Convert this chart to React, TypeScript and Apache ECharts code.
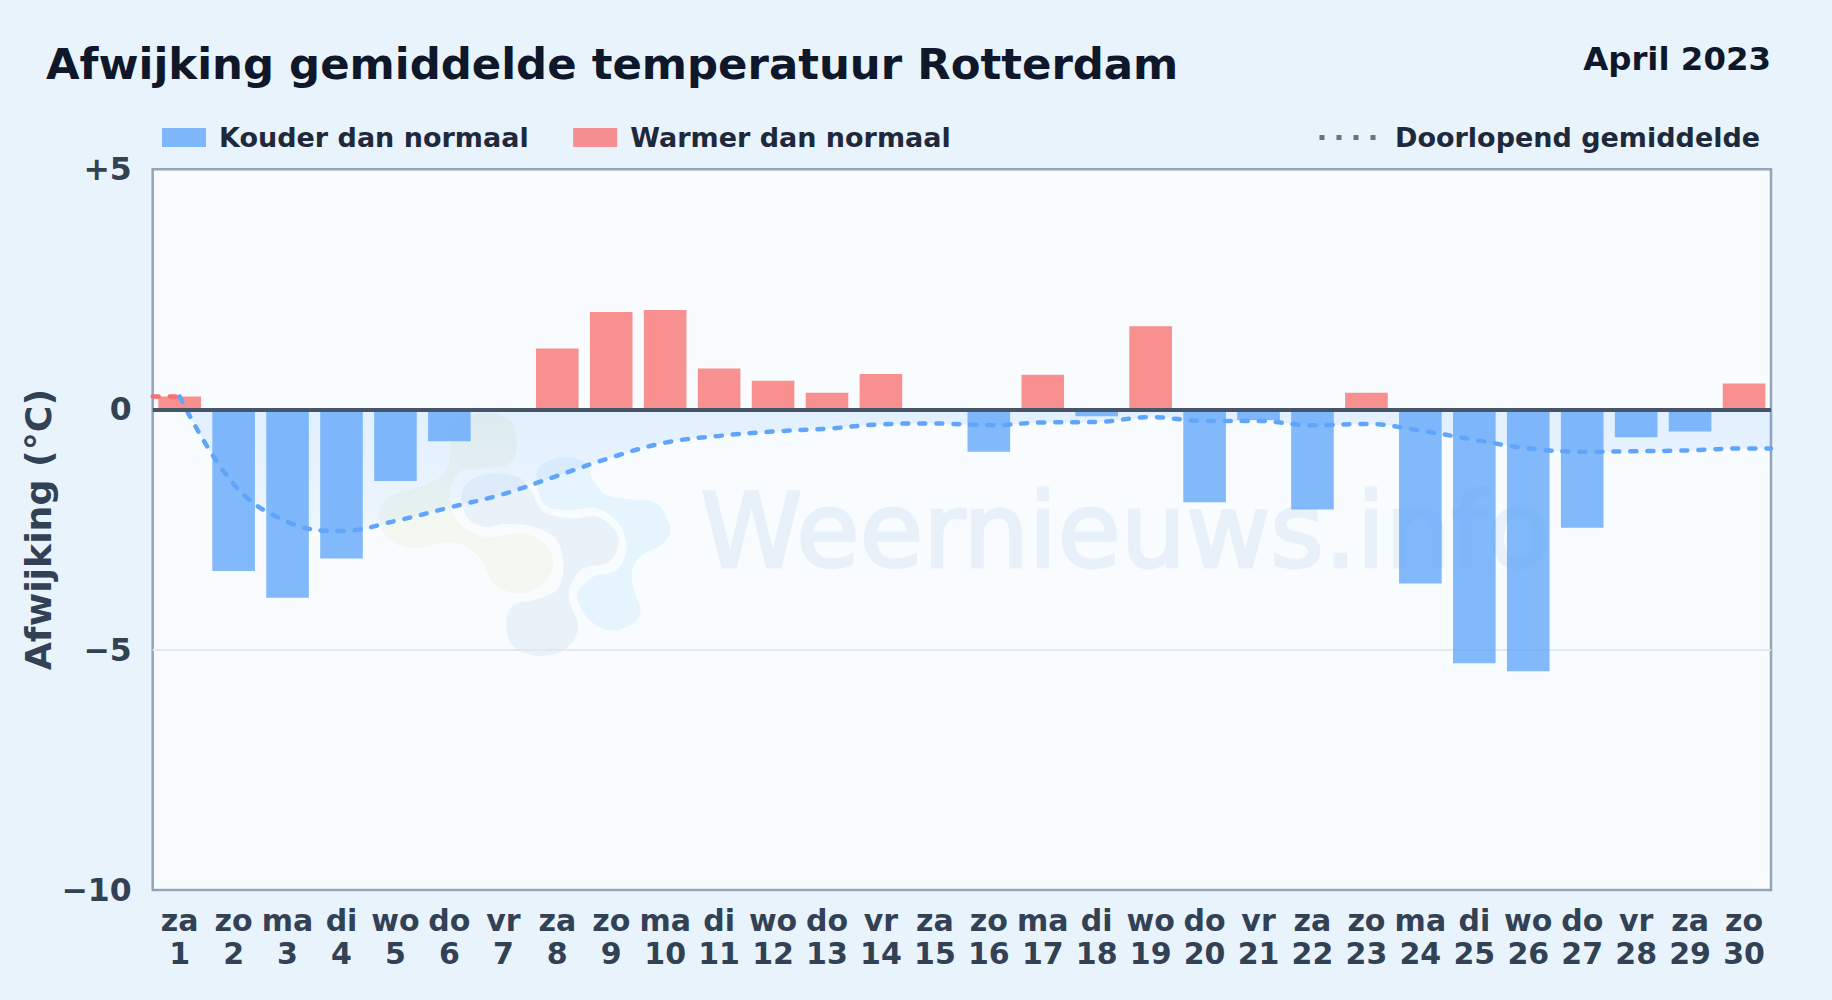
import React, { useEffect, useRef } from "react";
import * as echarts from "echarts";

const weekdays = ["za","zo","ma","di","wo","do","vr","za","zo","ma","di","wo","do","vr","za","zo","ma","di","wo","do","vr","za","zo","ma","di","wo","do","vr","za","zo"];
const days = [1,2,3,4,5,6,7,8,9,10,11,12,13,14,15,16,17,18,19,20,21,22,23,24,25,26,27,28,29,30];
const deviations = [0.27,-3.36,-3.92,-3.1,-1.49,-0.66,-0.05,1.27,2.03,2.07,0.85,0.6,0.35,0.74,0,-0.88,0.72,-0.14,1.73,-1.93,-0.22,-2.08,0.35,-3.62,-5.28,-5.45,-2.46,-0.58,-0.46,0.54];
const runningMean = [0.27,-1.55,-2.34,-2.53,-2.32,-2.04,-1.76,-1.38,-1.0,-0.69,-0.55,-0.46,-0.4,-0.31,-0.29,-0.33,-0.27,-0.26,-0.16,-0.24,-0.24,-0.33,-0.3,-0.44,-0.63,-0.81,-0.88,-0.87,-0.85,-0.81];
const yTickLabels: Record<string, string> = { "5": "+5", "0": "0", "-5": "−5", "-10": "−10" };

const COLD = "Kouder dan normaal";
const WARM = "Warmer dan normaal";
const MEAN = "Doorlopend gemiddelde";
const FONT = "DejaVu Sans";

const blobGreen = [[340,38],[420,60],[440,130],[420,190],[345,205],[270,215],[240,280],[260,360],[340,410],[460,400],[530,440],[550,500],[510,560],[440,580],[370,550],[335,480],[280,435],[210,430],[120,445],[50,410],[28,340],[60,290],[150,260],[225,220],[240,150],[250,80]];
const blobGrey = [[275,280],[310,235],[380,220],[450,235],[485,275],[520,335],[600,355],[680,350],[735,390],[745,440],[710,490],[640,505],[600,560],[600,610],[625,680],[590,745],[510,768],[430,740],[408,670],[430,615],[490,600],[560,570],[580,500],[560,420],[490,380],[410,372],[340,380],[290,350]];
const blobBlue = [[500,220],[540,180],[600,172],[650,190],[670,240],[710,285],[790,298],[860,310],[900,380],[880,430],[810,470],[785,520],[795,580],[812,630],[790,670],[730,692],[670,670],[630,620],[625,575],[670,530],[740,510],[770,440],[745,370],[680,325],[590,330],[520,310]];

// Closed Catmull-Rom outline for the faint logo shapes behind the chart.
const rounded = (pts: number[][]) => {
  const out: number[][] = [];
  const n = pts.length;
  for (let i = 0; i < n; i++) {
    const p0 = pts[(i - 1 + n) % n], p1 = pts[i], p2 = pts[(i + 1) % n], p3 = pts[(i + 2) % n];
    for (let k = 0; k < 8; k++) {
      const t = k / 8, t2 = t * t, t3 = t2 * t;
      const f = (a: number, b: number, c: number, d: number) =>
        0.5 * (2 * b + (c - a) * t + (2 * a - 5 * b + 4 * c - d) * t2 + (3 * b - a - 3 * c + d) * t3);
      out.push([370 + f(p0[0], p1[0], p2[0], p3[0]) / 3, 400 + f(p0[1], p1[1], p2[1], p3[1]) / 3]);
    }
  }
  return out;
};

const blob = (pts: number[][], fill: string) => ({
  type: "polygon",
  silent: true,
  shape: { points: rounded(pts) },
  style: { fill },
});

export default function App() {
  const ref = useRef<HTMLDivElement>(null);
  useEffect(() => {
    document.body.style.margin = "0";
    const chart = echarts.init(ref.current!, undefined, { renderer: "svg" });
    const meanPoints = runningMean.map((v, i) => [i + 0.5, v]);
    const meanToEdge = [...meanPoints, [30, runningMean[runningMean.length - 1]]];
    chart.setOption({
      animation: false,
      backgroundColor: "#E8F3FC",
      textStyle: { fontFamily: FONT },
      title: [
        { text: "Afwijking gemiddelde temperatuur Rotterdam", left: 46, top: 42, padding: 0, textStyle: { fontFamily: FONT, fontSize: 43.4, fontWeight: "bold", color: "#0f172a" } },
        { text: "April 2023", right: 61, top: 43, padding: 0, textStyle: { fontFamily: FONT, fontSize: 32.4, fontWeight: "bold", color: "#0f172a" } },
      ],
      legend: [
        {
          left: 162, top: 124, padding: 0, itemWidth: 44, itemHeight: 19, itemGap: 44.5, selectedMode: false,
          icon: "rect", data: [COLD, WARM],
          textStyle: { fontFamily: FONT, fontSize: 27, fontWeight: "bold", color: "#1e293b", padding: [0, 0, 0, 8] },
        },
        {
          left: 1317, top: 124, padding: 0, itemWidth: 56, itemHeight: 19, selectedMode: false,
          data: [MEAN],
          itemStyle: { opacity: 0 },
          lineStyle: { color: "#64748b", width: 5, type: [5, 12], cap: "butt" },
          textStyle: { fontFamily: FONT, fontSize: 27, fontWeight: "bold", color: "#1e293b", padding: [0, 0, 0, 14.5] },
        },
      ],
      grid: { left: 152.7, right: 61, top: 169.2, bottom: 110, show: true, backgroundColor: "#F8FCFF", borderColor: "#94a3b8", borderWidth: 2.5, containLabel: false, outerBoundsMode: "none" },
      xAxis: [
        {
          type: "category",
          data: days.map((d, i) => `${weekdays[i]}\n${d}`),
          position: "bottom",
          axisLine: { show: false },
          axisTick: { show: false },
          splitLine: { show: false },
          axisLabel: { interval: 0, fontFamily: FONT, fontSize: 30, fontWeight: "bold", color: "#334155", lineHeight: 33, margin: 14, hideOverlap: false },
        },
        { type: "value", min: 0, max: 30, show: false },
      ],
      yAxis: {
        type: "value",
        min: -10,
        max: 5,
        interval: 5,
        name: "Afwijking (°C)",
        nameLocation: "middle",
        nameGap: 96.5,
        nameRotate: 90,
        nameMoveOverlap: false,
        nameTextStyle: { fontFamily: FONT, fontSize: 36.3, fontWeight: "bold", color: "#334155" },
        axisLine: { show: false },
        axisTick: { show: false },
        splitLine: { showMinLine: false, showMaxLine: false, lineStyle: { color: "#e2e8f0", width: 2 } },
        axisLabel: { fontFamily: FONT, fontSize: 31.5, fontWeight: "bold", color: "#334155", margin: 21, formatter: (v: number) => yTickLabels[String(v)] ?? String(v) },
      },
      graphic: [
        {
          type: "text",
          silent: true,
          left: 699,
          top: 478,
          style: { text: "Weernieuws.info", fontFamily: FONT, fontSize: 103, fill: "#E8F1F9", stroke: "#E8F1F9", lineWidth: 3 },
        },
        blob(blobGreen, "rgba(200,220,130,0.13)"),
        blob(blobGrey, "rgba(100,140,190,0.09)"),
        blob(blobBlue, "rgba(80,180,250,0.1)"),
      ],
      series: [
        {
          type: "line",
          xAxisIndex: 1,
          data: meanToEdge,
          smooth: 0.4,
          symbol: "none",
          silent: true,
          lineStyle: { width: 0 },
          areaStyle: {
            color: {
              type: "linear", x: 0, y: 0, x2: 0, y2: 1,
              colorStops: [
                { offset: 0, color: "rgba(96,165,250,0.22)" },
                { offset: 1, color: "rgba(96,165,250,0.1)" },
              ],
            },
          },
          z: 1,
        },
        {
          name: COLD,
          type: "bar",
          xAxisIndex: 0,
          barWidth: "79%",
          barGap: "-100%",
          itemStyle: { color: "rgba(96,165,250,0.78)" },
          data: deviations.map((v) => (v < 0 ? v : null)),
        },
        {
          name: WARM,
          type: "bar",
          xAxisIndex: 0,
          barWidth: "79%",
          barGap: "-100%",
          itemStyle: { color: "rgba(248,113,113,0.78)" },
          data: deviations.map((v) => (v > 0 ? v : null)),
        },
        {
          type: "line",
          xAxisIndex: 1,
          data: [[0, runningMean[0]], meanPoints[0]],
          symbol: "none",
          silent: true,
          lineStyle: { color: "#f87171", width: 4.5, type: [6, 11], cap: "round" },
        },
        {
          name: MEAN,
          type: "line",
          xAxisIndex: 1,
          data: meanToEdge,
          smooth: 0.4,
          symbol: "none",
          silent: true,
          itemStyle: { color: "#60a5fa" },
          lineStyle: { color: "#60a5fa", width: 4.5, type: [6, 11], cap: "round" },
          markLine: {
            silent: true,
            symbol: "none",
            label: { show: false },
            lineStyle: { color: "#475569", width: 4, type: "solid" },
            data: [{ yAxis: 0 }],
          },
        },
      ],
    });
    return () => chart.dispose();
  }, []);
  return <div ref={ref} style={{ width: 1832, height: 1000 }} />;
}
